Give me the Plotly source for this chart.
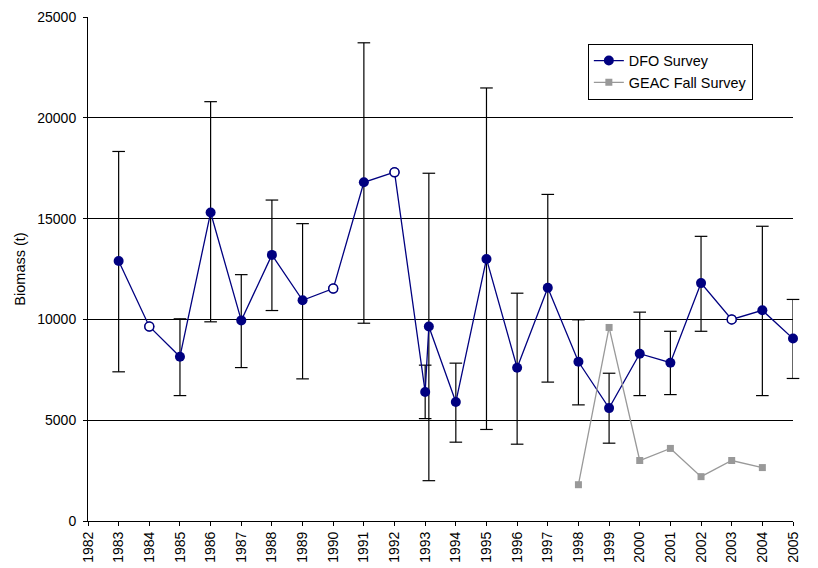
import plotly.graph_objects as go

# DFO Survey (1993 has two survey values, second slightly offset)
dfo_years = [1983, 1984, 1985, 1986, 1987, 1988, 1989, 1990, 1991, 1992, 1993, 1993.12,
             1994, 1995, 1996, 1997, 1998, 1999, 2000, 2001, 2002, 2003, 2004, 2005]
dfo_values = [12900, 9650, 8150, 15300, 9950, 13200, 10950, 11530, 16800, 17300, 6400, 9650,
              5900, 13000, 7600, 11570, 7900, 5600, 8300, 7850, 11800, 10000, 10450, 9050]
# open (unfilled) points
open_years = [1984, 1990, 1992, 2003]
open_values = [9650, 11530, 17300, 10000]

# error bar limits (years with confidence intervals)
err_years = [1983, 1985, 1986, 1987, 1988, 1989, 1991, 1993, 1993.12, 1994, 1995, 1996,
             1997, 1998, 1999, 2000, 2001, 2002, 2004, 2005]
err_center = [12900, 8150, 15300, 9950, 13200, 10950, 16800, 6400, 9650, 5900, 13000, 7600,
              11570, 7900, 5600, 8300, 7850, 11800, 10450, 9050]
err_upper = [18330, 10030, 20800, 12220, 15920, 14750, 23720, 7730, 17250, 7830, 21480, 11300,
             16200, 9980, 7330, 10360, 9410, 14120, 14620, 10990]
err_lower = [7400, 6220, 9880, 7610, 10440, 7050, 9810, 5080, 2000, 3910, 4540, 3810,
             6890, 5760, 3860, 6220, 6270, 9410, 6220, 7070]

# GEAC Fall Survey
geac_years = [1998, 1999, 2000, 2001, 2002, 2003, 2004]
geac_values = [1800, 9600, 3000, 3600, 2200, 3000, 2650]

year_ticks = list(range(1982, 2006))

NAVY = "#000080"
GRAY = "#999999"

fig = go.Figure()

# error bar stems
fig.add_trace(go.Scatter(
    x=err_years, y=err_center, mode="markers", cliponaxis=False,
    marker=dict(size=1, color="rgba(0,0,0,0)"),
    error_y=dict(type="data", symmetric=False,
                 array=[u - c for u, c in zip(err_upper, err_center)],
                 arrayminus=[c - l for l, c in zip(err_lower, err_center)],
                 color="black", thickness=1.2, width=0),
    showlegend=False, hoverinfo="skip"))

# error bar caps (markers, so they are not clipped at the plot edge)
fig.add_trace(go.Scatter(
    x=err_years + err_years, y=err_upper + err_lower, mode="markers", cliponaxis=False,
    marker=dict(symbol="line-ew", size=9, color="black",
                line=dict(color="black", width=1.2)),
    showlegend=False, hoverinfo="skip"))

fig.add_trace(go.Scatter(
    x=dfo_years, y=dfo_values, mode="lines+markers", name="DFO Survey", cliponaxis=False,
    line=dict(color=NAVY, width=1.3),
    marker=dict(symbol="circle", size=10, color=NAVY)))

fig.add_trace(go.Scatter(
    x=open_years, y=open_values, mode="markers", showlegend=False, cliponaxis=False,
    marker=dict(symbol="circle", size=9, color="white", line=dict(color=NAVY, width=1.5))))

fig.add_trace(go.Scatter(
    x=geac_years, y=geac_values, mode="lines+markers", name="GEAC Fall Survey",
    cliponaxis=False,
    line=dict(color=GRAY, width=1.3),
    marker=dict(symbol="square", size=7, color=GRAY)))

fig.update_layout(
    width=818, height=568,
    margin=dict(l=88, r=25, t=17, b=46.5),
    paper_bgcolor="white", plot_bgcolor="white",
    font=dict(family="Liberation Sans, Arial, sans-serif", size=14, color="black"),
    legend=dict(x=0.709, y=0.947, xanchor="left", yanchor="top",
                bgcolor="white", bordercolor="black", borderwidth=1,
                font=dict(size=14.4)),
    xaxis=dict(range=[1982, 2005], tickmode="array", tickvals=year_ticks,
               ticktext=[str(y) for y in year_ticks], tickangle=-90,
               showgrid=False, zeroline=False, showline=True, linecolor="black",
               linewidth=1, ticks="outside", ticklen=4, tickcolor="black",
               ticklabelstandoff=0, tickfont=dict(size=14), automargin=False),
    yaxis=dict(range=[0, 25000], dtick=5000, tickformat="d",
               showgrid=True, gridcolor="black", gridwidth=1, zeroline=False,
               showline=True, linecolor="black", linewidth=1,
               ticks="outside", ticklen=4, tickcolor="black",
               ticklabelstandoff=4, tickfont=dict(size=14), automargin=False,
               title=dict(text="Biomass (t)", font=dict(size=14.5), standoff=8)),
)

fig.write_html("out.html")
